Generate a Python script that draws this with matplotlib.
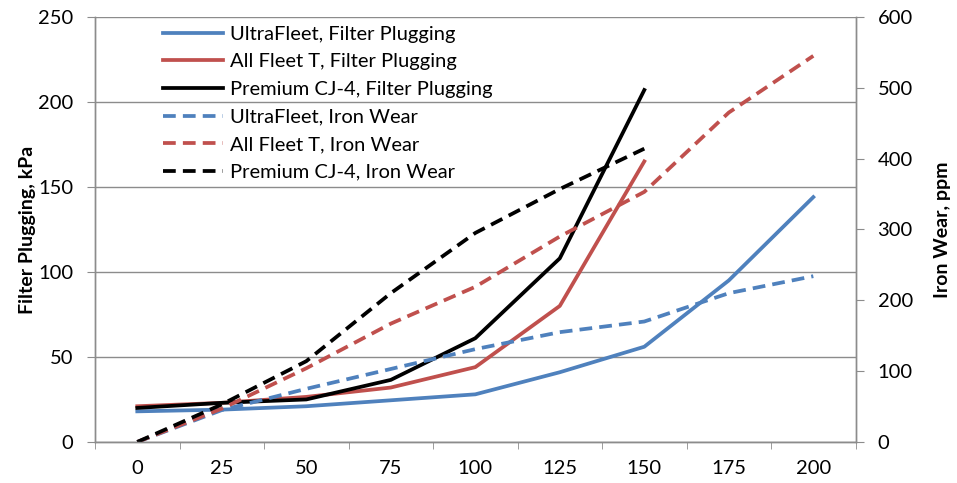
import matplotlib
matplotlib.use("Agg")
import matplotlib.pyplot as plt
import numpy as np

plt.rcParams['font.family'] = ['Lato', 'DejaVu Sans']

hours = [0, 25, 50, 75, 100, 125, 150, 175, 200]

# filter plugging, kPa (left axis)
ultra_fp = [18, 19, 21, 24.5, 28, 41, 56, 95, 144]
allfleet_fp = [21, 23, 26.5, 32, 44, 80, 165]
cj4_fp = [20, 23, 25, 36.5, 61, 108, 207]

# iron wear, ppm (right axis)
ultra_fe = [0, 45, 75, 103, 131, 155, 170, 210, 234]
allfleet_fe = [0, 47, 104, 167, 219, 290, 353, 465, 545]
cj4_fe = [0, 53, 114, 210, 295, 357, 414]

blue = '#4F81BD'
red = '#C0504D'
grid_col = '#8C8C8C'

fig = plt.figure(figsize=(9.57, 4.83), dpi=100)
ax1 = fig.add_axes([0.0993, 0.085, 0.7947, 0.88])
ax2 = ax1.twinx()

lw = 2.7
dash = (3.4, 1.9)
l1, = ax1.plot(hours[:len(ultra_fp)], ultra_fp, color=blue, lw=lw, label='UltraFleet, Filter Plugging')
l2, = ax1.plot(hours[:len(allfleet_fp)], allfleet_fp, color=red, lw=lw, label='All Fleet T, Filter Plugging')
l3, = ax1.plot(hours[:len(cj4_fp)], cj4_fp, color='black', lw=lw, label='Premium CJ-4, Filter Plugging')
l4, = ax2.plot(hours[:len(ultra_fe)], ultra_fe, color=blue, lw=lw, dashes=dash, label='UltraFleet, Iron Wear')
l5, = ax2.plot(hours[:len(allfleet_fe)], allfleet_fe, color=red, lw=lw, dashes=dash, label='All Fleet T, Iron Wear')
l6, = ax2.plot(hours[:len(cj4_fe)], cj4_fe, color='black', lw=lw, dashes=dash, label='Premium CJ-4, Iron Wear')

fs = 14.5
ax1.set_xlim(-12.5, 212.5)
ax1.set_ylim(0, 250)
ax2.set_ylim(0, 600)
ax1.set_yticks(np.arange(0, 251, 50))
ax2.set_yticks(np.arange(0, 601, 100))
ax1.set_xticks(hours)
ax1.set_xticks(np.arange(-12.5, 213, 25), minor=True)
ax1.tick_params(axis='x', which='major', length=0, pad=13, labelsize=fs)
ax1.tick_params(axis='x', which='minor', length=5, color=grid_col, direction='out')
ax1.tick_params(axis='y', length=5.8, color=grid_col, labelsize=fs, pad=10)
ax2.tick_params(axis='y', length=5.8, color=grid_col, labelsize=fs, pad=10)

ax1.yaxis.grid(True, color=grid_col, lw=1)
ax1.set_axisbelow(True)
for ax in (ax1, ax2):
    ax.spines['top'].set_visible(False)
    for s in ('left', 'right', 'bottom'):
        ax.spines[s].set_color(grid_col)
        ax.spines[s].set_linewidth(1)

ax1.set_ylabel('Filter Plugging, kPa', fontsize=14, fontweight='bold')
ax2.set_ylabel('Iron Wear, ppm', fontsize=14, fontweight='bold')
ax1.yaxis.set_label_coords(-0.077, 0.5)
ax2.yaxis.set_label_coords(1.1035, 0.5)

ax2.legend(handles=[l1, l2, l3, l4, l5, l6], loc='upper left',
           bbox_to_anchor=(0.0895, 0.979), fontsize=fs, handlelength=2.95,
           handletextpad=0.35, labelspacing=0.52, frameon=False,
           borderpad=0, borderaxespad=0)

fig.savefig('out.png', dpi=100)
